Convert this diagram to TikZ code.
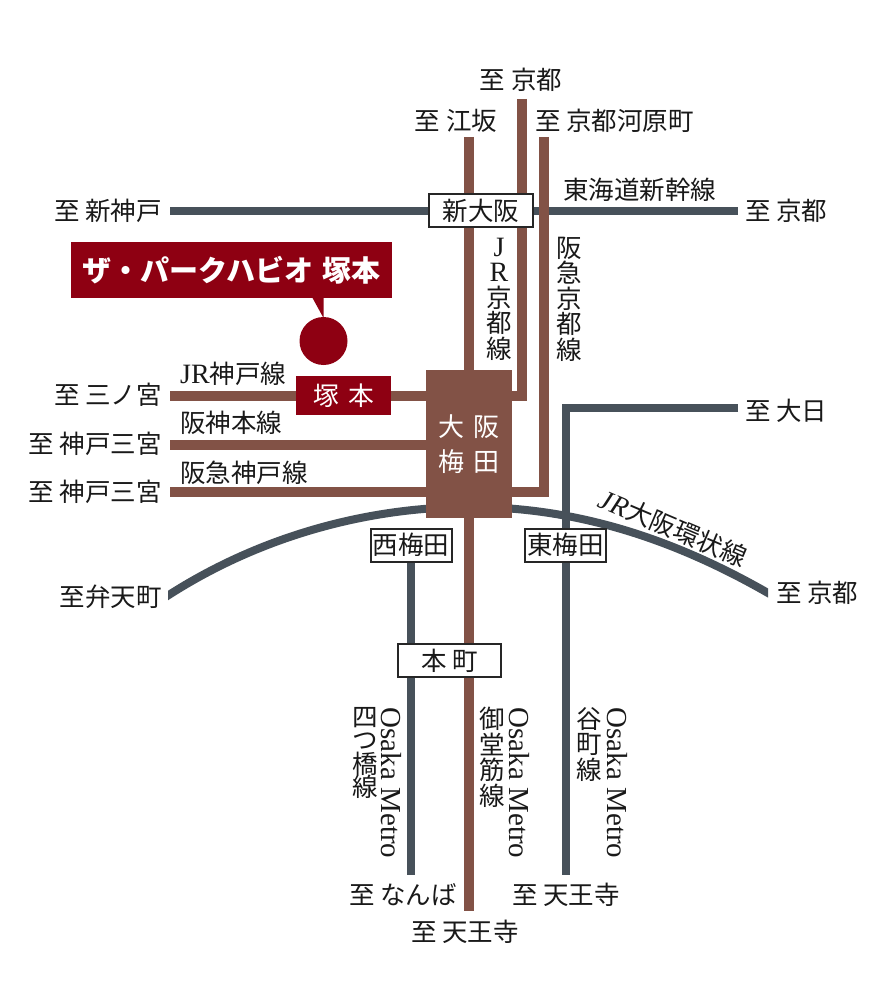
\documentclass[tikz,border=0pt]{standalone}
\usepackage{fontspec}
\setmainfont{Noto Sans CJK JP}
\newfontfamily\latinfont{Liberation Serif}
\usetikzlibrary{backgrounds}
\definecolor{linebrown}{HTML}{825246}
\definecolor{linegrey}{HTML}{47515A}
\definecolor{markred}{HTML}{8E0012}
\newcommand{\dest}[1]{至\hspace{.22em}#1}
\newcommand{\lat}[1]{{\latinfont\fontsize{28}{25.5}\selectfont #1}}

\begin{document}
\begin{tikzpicture}[x=1pt,y=-1pt,
    label/.style={font=\fontsize{25.5}{25.5}\selectfont,inner sep=0pt,text=black!90},
    tall/.style={label,align=center},
    metro/.style={label,rotate=-90,font=\fontsize{29}{29}\latinfont},
    station/.style={label,draw=black!85,line width=2pt,fill=white,inner sep=0pt,minimum height=33pt},
    brown/.style={draw=linebrown,line width=10pt},
    grey/.style={draw=linegrey,line width=8pt}]

  \useasboundingbox (0,0) rectangle (885,1008);

  % stations
  \node[fill=linebrown,text=white,inner sep=0pt,minimum width=86pt,minimum height=148pt,
        align=center,font=\fontsize{26}{35}\selectfont] (umeda) at (469,444) {大\hspace{.35em}阪\\梅\hspace{.35em}田};
  \node[station,minimum width=104pt] (shinosaka) at (481,210.5) {新大阪};
  \node[station,minimum width=81pt] (nishiumeda) at (411,545) {西梅田};
  \node[station,minimum width=81pt] (higashiumeda) at (565.5,545) {東梅田};
  \node[station,minimum width=103pt] (honmachi) at (449.5,660.5) {本\hspace{.2em}町};
  \node[fill=markred,text=white,inner sep=0pt,minimum width=95pt,minimum height=39pt,
        font=\fontsize{25.8}{25}\selectfont] (tsukamoto) at (343.5,395.5) {塚\hspace{.35em}本};
  \node[fill=markred,text=white,inner sep=0pt,minimum width=321pt,minimum height=56pt,
        font=\fontsize{29}{29}\selectfont\bfseries] (park) at (231.5,270) {ザ・パークハビオ\hspace{.3em}塚本};
  \node[circle,fill=markred,inner sep=0pt,minimum size=48pt] (spot) at (323.5,341) {};
  \coordinate (tailL) at (312,297);
  \coordinate (tailR) at (323.5,297);
  \coordinate (tailT) at (323.5,318);
  \fill[markred] (tailL) -- (tailT) -- (tailR) -- cycle;

  % line ends
  \coordinate (kobeS) at (170,211);
  \coordinate (kyotoS) at (738,211);
  \coordinate (esaka) at (469,137);
  \coordinate (tennojiM) at (469,911);
  \coordinate (kyotoJ) at (521.5,99);
  \coordinate (kyotoJb) at (521.5,396);
  \coordinate (kawara) at (544,137);
  \coordinate (kawarab) at (544,492);
  \coordinate (sannomiya) at (170,396);
  \coordinate (hanshin) at (170,445);
  \coordinate (hankyu) at (170,492);
  \coordinate (dainichi) at (738,408);
  \coordinate (dainichib) at (565.5,408);
  \coordinate (tennojiT) at (565.5,875);
  \coordinate (namba) at (411,875);
  \coordinate (bentencho) at (168,595.5);
  \coordinate (kyotoL) at (768,593);
  \coordinate (looptop) at (470,507);

  \begin{pgfonlayer}{background}
    \path (kobeS) edge [grey] (kyotoS)
          (nishiumeda) edge [grey] (namba);
    \begin{scope}
      \clip (168,480) rectangle (768,620);
      \draw[grey,line cap=rect] (bentencho) .. controls (262,535) and (370,507) .. (looptop)
                                            .. controls (575,507) and (672,538) .. (kyotoL);
    \end{scope}
    \draw[grey] (dainichi) -- (dainichib) -- (tennojiT);
    \path (esaka) edge [brown] (tennojiM)
          (sannomiya) edge [brown] (sannomiya -| umeda.west)
          (hanshin) edge [brown] (hanshin -| umeda.west)
          (hankyu) edge [brown] (hankyu -| umeda.west);
    \draw[brown] (kyotoJ) -- (kyotoJb) -- (kyotoJb -| umeda.east);
    \draw[brown] (kawara) -- (kawarab) -- (kawarab -| umeda.east);
  \end{pgfonlayer}

  % destinations
  \node[label] (toKyotoJ) at (521,80) {\dest{京都}};
  \node[label] (toEsaka) at (456,121) {\dest{江坂}};
  \node[label,anchor=west] (toKawara) at (535,121) {\dest{京都河原町}};
  \node[label,anchor=east] (toKobeS) at (162,211) {\dest{新神戸}};
  \node[label,anchor=west] (toKyotoS) at (745,211) {\dest{京都}};
  \node[label,anchor=east] (toSannomiya) at (162,395) {\dest{三ノ宮}};
  \node[label,anchor=east] (toHanshin) at (162,444) {\dest{神戸三宮}};
  \node[label,anchor=east] (toHankyu) at (162,492) {\dest{神戸三宮}};
  \node[label,anchor=west] (toDainichi) at (745,411) {\dest{大日}};
  \node[label,anchor=east] (toBenten) at (162,597) {至弁天町};
  \node[label,anchor=west] (toKyotoL) at (776,593) {\dest{京都}};
  \node[label] (toNamba) at (403,895) {\dest{なんば}};
  \node[label] (toTennojiT) at (566,895) {\dest{天王寺}};
  \node[label] (toTennojiM) at (465,932) {\dest{天王寺}};

  % line names
  \node[label,anchor=west] (tokaido) at (563,190) {東海道新幹線};
  \node[label,anchor=west] (jrkobe) at (180,374) {\lat{JR}神戸線};
  \node[label,anchor=west] (hanshinl) at (180,423) {阪神本線};
  \node[label,anchor=west] (hankyul) at (180,473) {阪急神戸線};
  \node[label,rotate=-23] (loopl) at (673,528) {\lat{\itshape JR}大阪環状線};
  \node[tall] (jrkyoto) at (499,299) {\lat{J}\\\lat{R}\\京\\都\\線};
  \node[tall] (hankyukyoto) at (569,299) {阪\\急\\京\\都\\線};
  \node[metro] (metroY) at (391,783) {Osaka Metro};
  \node[tall,anchor=north,font=\fontsize{25.5}{23.5}\selectfont] (yotsubashi) at (365,707) {四\\つ\\橋\\線};
  \node[metro] (metroM) at (519,783) {Osaka Metro};
  \node[tall,anchor=north] (midosuji) at (492,707) {御\\堂\\筋\\線};
  \node[metro] (metroT) at (617,783) {Osaka Metro};
  \node[tall,anchor=north] (tanimachi) at (589,707) {谷\\町\\線};

\end{tikzpicture}
\end{document}
